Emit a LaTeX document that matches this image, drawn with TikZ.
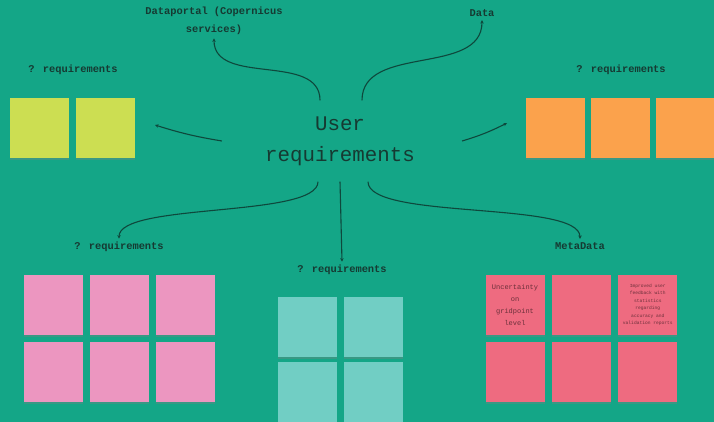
\documentclass[tikz,border=0pt]{standalone}
\usepackage{fontspec}
\newfontfamily\mono{Liberation Mono}
\usetikzlibrary{arrows.meta,positioning,shadows}
\definecolor{board}{RGB}{20,166,135}
\definecolor{ink}{RGB}{22,58,50}
\definecolor{wire}{RGB}{14,72,60}
\definecolor{lime}{RGB}{204,222,82}
\definecolor{apricot}{RGB}{251,162,76}
\definecolor{rose}{RGB}{236,150,192}
\definecolor{aqua}{RGB}{113,206,196}
\definecolor{coral}{RGB}{238,107,128}

\begin{document}
\begin{tikzpicture}[
        x=1pt, y=1pt,
        node distance=7pt,
        lbl/.style={font=\fontsize{10.4}{18}\selectfont\mono\bfseries, text=ink, align=center},
        note/.style={
            rectangle,
            minimum width=59pt,
            minimum height=60pt,
            inner sep=1pt,
            align=center,
            drop shadow={shadow xshift=0pt, shadow yshift=-2pt, opacity=0.35}
        },
        arr/.style={draw=wire, line width=1.1pt, -{Stealth[length=3.5pt,width=3.5pt]}}
    ]
        \fill[board] (0,0) rectangle (714,-422);
        \useasboundingbox (0,0) rectangle (714,-422);

        % centre
        \node (user) [
            font=\fontsize{20.8}{31}\selectfont\mono,
            text=ink,
            align=center,
            inner xsep=3pt,
            inner ysep=16pt
        ] at (340,-141) {User\\requirements};

        % labels
        \node (dp) [lbl] at (214,-21) {Dataportal (Copernicus\\services)};
        \node (data) [lbl] at (482,-13) {Data};
        \node (req1) [lbl] at (73,-70) {? requirements};
        \node (req2) [lbl] at (621,-70) {? requirements};
        \node (req3) [lbl] at (119,-247) {? requirements};
        \node (req4) [lbl] at (342,-270) {? requirements};
        \node (meta) [lbl] at (580,-246) {MetaData};
        \coordinate (lt) at (155,-125);
        \coordinate (rt) at (507,-123);

        % yellow
        \node (y1) [note, fill=lime] at (39,-128) {};
        \node (y2) [note, fill=lime, right=of y1] {};

        % orange
        \node (o1) [note, fill=apricot] at (555,-128) {};
        \node (o2) [note, fill=apricot, right=6pt of o1] {};
        \node (o3) [note, fill=apricot, right=6pt of o2] {};

        % pink
        \node (p1) [note, fill=rose] at (53,-305) {};
        \node (p2) [note, fill=rose, right=of p1] {};
        \node (p3) [note, fill=rose, right=of p2] {};
        \node (p4) [note, fill=rose, below=of p1] {};
        \node (p5) [note, fill=rose, right=of p4] {};
        \node (p6) [note, fill=rose, right=of p5] {};

        % cyan
        \node (c1) [note, fill=aqua] at (307,-327) {};
        \node (c2) [note, fill=aqua, right=of c1] {};
        \node (c3) [note, fill=aqua, below=5pt of c1] {};
        \node (c4) [note, fill=aqua, right=of c3] {};

        % red
        \node (r1) [
            note,
            fill=coral,
            text=coral!45!black,
            font=\fontsize{7}{12}\selectfont\mono
        ] at (515,-305) {Uncertainty\\on\\gridpoint\\level};
        \node (r2) [note, fill=coral, right=of r1] {};
        \node (r3) [
            note,
            fill=coral,
            text=coral!45!black,
            font=\fontsize{4.6}{7.5}\selectfont\mono
        ] [right=of r2] {Improved user\\feedback with\\statistics\\regarding\\accuracy and\\validation reports};
        \node (r4) [note, fill=coral, below=of r1] {};
        \node (r5) [note, fill=coral, right=of r4] {};
        \node (r6) [note, fill=coral, right=of r5] {};

        \draw[arr] ([xshift=-20pt]user.north) to[out=90, in=-90] (dp.south);
        \draw[arr] ([xshift=22pt]user.north) to[out=90, in=-90] (data.south);
        \draw[arr] ([xshift=-40pt]user.west) to[bend left=4] (lt);
        \draw[arr] ([xshift=44pt]user.east) to[bend right=5] (rt);
        \draw[arr] ([xshift=-22pt]user.south) to[out=-90, in=90, looseness=0.45] (req3.north);
        \draw[arr] (user.south) -- (req4.north);
        \draw[arr] ([xshift=28pt]user.south) to[out=-90, in=90, looseness=0.45] (meta.north);
    \end{tikzpicture}
\end{document}
